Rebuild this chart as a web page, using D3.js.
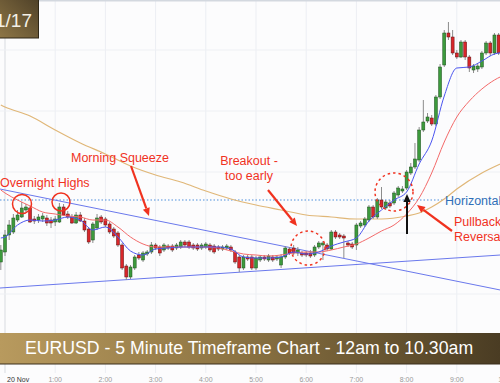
<!DOCTYPE html>
<html>
<head>
<meta charset="utf-8">
<script src="https://cdn.jsdelivr.net/npm/d3@7"></script>
<style>
  html, body { margin: 0; padding: 0; background: #fff; }
  svg { display: block; font-family: "Liberation Sans", Arial, sans-serif; }
</style>
</head>
<body>
<script>
// EURUSD 5 minute candles, first one opens 23:55 on 19 Nov
var firstCandle = new Date(2017, 10, 19, 23, 55);

var opens = [
  1.17738, 1.17748, 1.17765, 1.17768, 1.17780, 1.17783, 1.17790, 1.17792, 1.17781, 1.17780,
  1.17781, 1.17782, 1.17780, 1.17778, 1.17778, 1.17793, 1.17786, 1.17783, 1.17777, 1.17785,
  1.17779, 1.17771, 1.17760, 1.17772, 1.17783, 1.17781, 1.17776, 1.17771, 1.17767, 1.17755,
  1.17734, 1.17723, 1.17732, 1.17745, 1.17740, 1.17746, 1.17748, 1.17755, 1.17753, 1.17750,
  1.17754, 1.17754, 1.17752, 1.17753, 1.17758, 1.17758, 1.17755, 1.17755, 1.17752, 1.17753,
  1.17755, 1.17754, 1.17753, 1.17751, 1.17752, 1.17753, 1.17748, 1.17743, 1.17732, 1.17743,
  1.17743, 1.17732, 1.17740, 1.17743, 1.17740, 1.17743, 1.17741, 1.17735, 1.17743, 1.17751,
  1.17752, 1.17747, 1.17747, 1.17747, 1.17747, 1.17745, 1.17753, 1.17755, 1.17755, 1.17751,
  1.17768, 1.17765, 1.17764, 1.17757, 1.17756, 1.17755, 1.17774, 1.17775, 1.17780, 1.17793,
  1.17783, 1.17800, 1.17792, 1.17797, 1.17797, 1.17805, 1.17809, 1.17812, 1.17827, 1.17833,
  1.17840, 1.17870, 1.17879, 1.17882, 1.17876, 1.17903, 1.17935, 1.17967, 1.17963, 1.17947,
  1.17943, 1.17958, 1.17943, 1.17930, 1.17931, 1.17933, 1.17947, 1.17957, 1.17947, 1.17965
];
var highs = [
  1.17755, 1.17770, 1.17780, 1.17786, 1.17790, 1.17798, 1.17796, 1.17794, 1.17784, 1.17786,
  1.17787, 1.17785, 1.17783, 1.17784, 1.17797, 1.17796, 1.17789, 1.17786, 1.17788, 1.17788,
  1.17782, 1.17773, 1.17778, 1.17786, 1.17785, 1.17783, 1.17778, 1.17773, 1.17769, 1.17757,
  1.17736, 1.17735, 1.17745, 1.17748, 1.17749, 1.17750, 1.17758, 1.17757, 1.17755, 1.17757,
  1.17756, 1.17756, 1.17757, 1.17760, 1.17760, 1.17760, 1.17757, 1.17757, 1.17757, 1.17758,
  1.17757, 1.17756, 1.17755, 1.17755, 1.17756, 1.17755, 1.17750, 1.17745, 1.17745, 1.17745,
  1.17745, 1.17744, 1.17745, 1.17745, 1.17746, 1.17745, 1.17745, 1.17746, 1.17754, 1.17753,
  1.17755, 1.17753, 1.17749, 1.17749, 1.17750, 1.17755, 1.17759, 1.17759, 1.17757, 1.17770,
  1.17770, 1.17767, 1.17766, 1.17759, 1.17758, 1.17777, 1.17779, 1.17783, 1.17795, 1.17795,
  1.17802, 1.17813, 1.17800, 1.17800, 1.17809, 1.17814, 1.17814, 1.17830, 1.17837, 1.17857,
  1.17873, 1.17900, 1.17887, 1.17885, 1.17905, 1.17936, 1.17970, 1.17978, 1.17970, 1.17950,
  1.17960, 1.17960, 1.17945, 1.17936, 1.17937, 1.17949, 1.17959, 1.17959, 1.17967, 1.17967
];
var lows = [
  1.17730, 1.17744, 1.17760, 1.17766, 1.17778, 1.17782, 1.17788, 1.17777, 1.17776, 1.17777,
  1.17778, 1.17774, 1.17772, 1.17774, 1.17777, 1.17784, 1.17781, 1.17776, 1.17776, 1.17778,
  1.17768, 1.17756, 1.17757, 1.17770, 1.17776, 1.17773, 1.17766, 1.17762, 1.17753, 1.17730,
  1.17720, 1.17721, 1.17730, 1.17740, 1.17738, 1.17744, 1.17746, 1.17750, 1.17744, 1.17748,
  1.17750, 1.17748, 1.17750, 1.17751, 1.17753, 1.17751, 1.17750, 1.17749, 1.17750, 1.17751,
  1.17748, 1.17746, 1.17749, 1.17749, 1.17750, 1.17748, 1.17736, 1.17728, 1.17730, 1.17739,
  1.17730, 1.17730, 1.17738, 1.17739, 1.17738, 1.17738, 1.17739, 1.17732, 1.17741, 1.17745,
  1.17745, 1.17744, 1.17743, 1.17743, 1.17742, 1.17743, 1.17751, 1.17740, 1.17749, 1.17750,
  1.17761, 1.17761, 1.17742, 1.17753, 1.17751, 1.17750, 1.17772, 1.17773, 1.17778, 1.17781,
  1.17781, 1.17791, 1.17790, 1.17792, 1.17795, 1.17803, 1.17807, 1.17810, 1.17825, 1.17831,
  1.17838, 1.17868, 1.17877, 1.17874, 1.17874, 1.17901, 1.17933, 1.17960, 1.17945, 1.17941,
  1.17942, 1.17940, 1.17928, 1.17927, 1.17928, 1.17931, 1.17945, 1.17944, 1.17945, 1.17945
];
var closes = [
  1.17750, 1.17765, 1.17775, 1.17782, 1.17785, 1.17792, 1.17793, 1.17778, 1.17779, 1.17783,
  1.17784, 1.17777, 1.17777, 1.17781, 1.17793, 1.17785, 1.17783, 1.17777, 1.17785, 1.17779,
  1.17770, 1.17758, 1.17776, 1.17782, 1.17778, 1.17775, 1.17768, 1.17764, 1.17755, 1.17732,
  1.17723, 1.17733, 1.17743, 1.17742, 1.17747, 1.17748, 1.17755, 1.17752, 1.17747, 1.17755,
  1.17752, 1.17750, 1.17755, 1.17758, 1.17755, 1.17753, 1.17752, 1.17751, 1.17755, 1.17756,
  1.17750, 1.17748, 1.17751, 1.17753, 1.17754, 1.17750, 1.17738, 1.17732, 1.17743, 1.17741,
  1.17732, 1.17742, 1.17743, 1.17741, 1.17744, 1.17740, 1.17743, 1.17743, 1.17752, 1.17747,
  1.17747, 1.17750, 1.17745, 1.17745, 1.17744, 1.17753, 1.17757, 1.17757, 1.17751, 1.17768,
  1.17763, 1.17763, 1.17762, 1.17755, 1.17753, 1.17775, 1.17777, 1.17781, 1.17793, 1.17783,
  1.17800, 1.17793, 1.17798, 1.17794, 1.17807, 1.17812, 1.17811, 1.17828, 1.17833, 1.17841,
  1.17870, 1.17878, 1.17883, 1.17876, 1.17903, 1.17933, 1.17967, 1.17963, 1.17947, 1.17943,
  1.17958, 1.17943, 1.17932, 1.17934, 1.17934, 1.17947, 1.17957, 1.17947, 1.17965, 1.17947
];

// moving averages (minutes after midnight)
var maMinutes = [-5, 0, 15, 30, 45, 60, 75, 90, 105, 120, 135, 150, 165, 180, 195, 210, 225, 240, 255, 270,
  285, 300, 315, 330, 345, 360, 375, 390, 405, 420, 435, 450, 465, 480, 495, 510, 525, 540, 555, 570, 585, 600];
var fastMA = [
  1.17762, 1.17763, 1.17775, 1.17780, 1.17779, 1.17780, 1.17783, 1.17780, 1.17770, 1.17773,
  1.17763, 1.17749, 1.17745, 1.17751, 1.17752, 1.17753, 1.17753, 1.17753, 1.17753, 1.17751,
  1.17743, 1.17742, 1.17742, 1.17743, 1.17748, 1.17746, 1.17748, 1.17754, 1.17758, 1.17762,
  1.17779, 1.17790, 1.17800, 1.17808, 1.17836, 1.17859, 1.17904, 1.17932, 1.17933, 1.17939,
  1.17946, 1.17948
];
var slowMA = [
  1.17810, 1.17807, 1.17800, 1.17794, 1.17788, 1.17786, 1.17784, 1.17783, 1.17780, 1.17780,
  1.17773, 1.17763, 1.17756, 1.17753, 1.17753, 1.17753, 1.17753, 1.17753, 1.17752, 1.17749,
  1.17746, 1.17745, 1.17744, 1.17745, 1.17747, 1.17748, 1.17748, 1.17750, 1.17753, 1.17756,
  1.17762, 1.17769, 1.17775, 1.17786, 1.17802, 1.17827, 1.17858, 1.17883, 1.17899, 1.17911,
  1.17920, 1.17926
];
var longMinutes = [-5, 0, 30, 60, 90, 120, 150, 180, 210, 240, 270, 300, 330, 360, 390, 420, 450, 480, 495,
  510, 525, 540, 570, 600];
var longMA = [
  1.17895, 1.17893, 1.17884, 1.17870, 1.17857, 1.17846, 1.17834, 1.17825, 1.17818, 1.17809,
  1.17801, 1.17795, 1.17790, 1.17785, 1.17783, 1.17781, 1.17781, 1.17784, 1.17787, 1.17793,
  1.17801, 1.17811, 1.17827, 1.17839
];

// drawn lines: [minutes, price] pairs
var horizontalLevel = 1.17800;
var upperTrend = [[-6, 1.17811], [592, 1.17710]];
var lowerTrend = [[-6, 1.17712], [592, 1.17745]];
var gridPrices = [1.17950, 1.17889, 1.17828, 1.17767, 1.17706, 1.17645];

var W = 500, H = 383, plotBottom = 367;
var midnight = new Date(2017, 10, 20, 0, 0);
function atMin(m) { return d3.timeMinute.offset(midnight, m); }

var x = d3.scaleTime().domain([midnight, atMin(600)]).range([5, 507]);
var y = d3.scaleLinear().domain([1.17633, 1.18]).range([plotBottom, 0]);

var candles = opens.map(function(o, i) {
  return { t: d3.timeMinute.offset(firstCandle, 5 * i), o: o, h: highs[i], l: lows[i], c: closes[i] };
});

var svg = d3.select("body").append("svg").attr("width", W).attr("height", H);
var defs = svg.append("defs");

defs.append("clipPath").attr("id", "plot")
  .append("rect").attr("x", 0).attr("y", 0).attr("width", W).attr("height", plotBottom);

var bannerGrad = defs.append("linearGradient").attr("id", "banner")
  .attr("x1", "0%").attr("y1", "0%").attr("x2", "100%").attr("y2", "0%");
bannerGrad.append("stop").attr("offset", "0%").attr("stop-color", "#b89a5e");
bannerGrad.append("stop").attr("offset", "45%").attr("stop-color", "#8f7644");
bannerGrad.append("stop").attr("offset", "100%").attr("stop-color", "#4a3c23");

var boxGrad = defs.append("linearGradient").attr("id", "box")
  .attr("x1", "0%").attr("y1", "100%").attr("x2", "100%").attr("y2", "0%");
boxGrad.append("stop").attr("offset", "0%").attr("stop-color", "#8e7646");
boxGrad.append("stop").attr("offset", "100%").attr("stop-color", "#4f4128");

svg.append("rect").attr("width", W).attr("height", H).attr("fill", "#fcfcfd");

// grid
var hours = d3.timeHour.range(midnight, atMin(601));
svg.append("g").selectAll("line").data(hours).enter().append("line")
  .attr("x1", function(d) { return x(d); }).attr("x2", function(d) { return x(d); })
  .attr("y1", 0).attr("y2", 373)
  .attr("stroke", function(d, i) { return i == 0 ? "#d8dbe0" : "#eceef3"; })
  .attr("stroke-width", 1);
svg.append("g").selectAll("line").data(gridPrices).enter().append("line")
  .attr("x1", 0).attr("x2", W)
  .attr("y1", function(d) { return y(d); }).attr("y2", function(d) { return y(d); })
  .attr("stroke", "#eef0f4").attr("stroke-width", 1);
svg.append("line").attr("x1", 0).attr("x2", W).attr("y1", 0.5).attr("y2", 0.5)
  .attr("stroke", "#d3d8df").attr("stroke-width", 2);

var plot = svg.append("g").attr("clip-path", "url(#plot)");

// horizontal level
plot.append("line")
  .attr("x1", 0).attr("x2", 444)
  .attr("y1", y(horizontalLevel)).attr("y2", y(horizontalLevel))
  .attr("stroke", "#4d8fdc").attr("stroke-width", 1).attr("stroke-dasharray", "1.5,2");

// long MA
var maLine = function(mins) {
  return d3.line()
    .x(function(d, i) { return x(atMin(mins[i])); })
    .y(function(d) { return y(d); })
    .curve(d3.curveMonotoneX);
};
plot.append("path").datum(longMA).attr("d", maLine(longMinutes))
  .attr("fill", "none").attr("stroke", "#e0b778").attr("stroke-width", 1.2);

// trend lines
[upperTrend, lowerTrend].forEach(function(tl) {
  plot.append("line")
    .attr("x1", x(atMin(tl[0][0]))).attr("y1", y(tl[0][1]))
    .attr("x2", x(atMin(tl[1][0]))).attr("y2", y(tl[1][1]))
    .attr("stroke", "#6a78ec").attr("stroke-width", 1);
});

// candles
var cw = 3;
var cg = plot.append("g").selectAll("g").data(candles).enter().append("g");
cg.append("line")
  .attr("x1", function(d) { return x(d.t); }).attr("x2", function(d) { return x(d.t); })
  .attr("y1", function(d) { return y(d.h); }).attr("y2", function(d) { return y(d.l); })
  .attr("stroke", "#8c8c8c").attr("stroke-width", 1);
cg.append("rect")
  .attr("x", function(d) { return x(d.t) - cw / 2; })
  .attr("width", cw)
  .attr("y", function(d) { return y(Math.max(d.o, d.c)); })
  .attr("height", function(d) { return Math.max(1, Math.abs(y(d.o) - y(d.c))); })
  .attr("fill", function(d) { return d.c >= d.o ? "#3c9a3c" : "#d8262a"; })
  .attr("stroke", function(d) { return d.c >= d.o ? "#1f4f1f" : "#5e1212"; })
  .attr("stroke-width", 0.5);

// fast and slow MA
plot.append("path").datum(slowMA).attr("d", maLine(maMinutes))
  .attr("fill", "none").attr("stroke", "#f36a6a").attr("stroke-width", 1);
plot.append("path").datum(fastMA).attr("d", maLine(maMinutes))
  .attr("fill", "none").attr("stroke", "#4b55f0").attr("stroke-width", 1);

// annotations
var red = "#f0321f";
function arrow(x1, y1, x2, y2, color, w, head) {
  var a = Math.atan2(y2 - y1, x2 - x1);
  var bx = x2 - Math.cos(a) * head, by = y2 - Math.sin(a) * head;
  var px = -Math.sin(a) * head * 0.45, py = Math.cos(a) * head * 0.45;
  svg.append("line").attr("x1", x1).attr("y1", y1).attr("x2", bx).attr("y2", by)
    .attr("stroke", color).attr("stroke-width", w);
  svg.append("polygon")
    .attr("points", [[x2, y2], [bx + px, by + py], [bx - px, by - py]].map(function(p) { return p.join(","); }).join(" "))
    .attr("fill", color);
}

[[22, 204, 9.5], [61, 202, 9]].forEach(function(c) {
  svg.append("circle").attr("cx", c[0]).attr("cy", c[1]).attr("r", c[2])
    .attr("fill", "none").attr("stroke", red).attr("stroke-width", 1.5);
});
[[308, 248, 17], [394, 192, 19]].forEach(function(c) {
  svg.append("circle").attr("cx", c[0]).attr("cy", c[1]).attr("r", c[2])
    .attr("fill", "none").attr("stroke", red).attr("stroke-width", 1.5)
    .attr("stroke-dasharray", "2.5,3");
});

var labels = [
  { t: "Overnight Highs", x: 0, y: 187, c: red, a: "start" },
  { t: "Morning Squeeze", x: 71, y: 162, c: red, a: "start" },
  { t: "Breakout -", x: 249, y: 165, c: red, a: "middle" },
  { t: "too early", x: 249, y: 180, c: red, a: "middle" },
  { t: "Horizontal", x: 445, y: 205, c: "#2f6fb8", a: "start" },
  { t: "Pullback", x: 454, y: 226, c: red, a: "start" },
  { t: "Reversal", x: 454, y: 241, c: red, a: "start" }
];
svg.append("g").selectAll("text").data(labels).enter().append("text")
  .attr("x", function(d) { return d.x; }).attr("y", function(d) { return d.y; })
  .attr("text-anchor", function(d) { return d.a; })
  .attr("fill", function(d) { return d.c; })
  .attr("font-size", 12.5)
  .text(function(d) { return d.t; });

arrow(131, 166, 149, 216, red, 2.2, 8);
arrow(268, 190, 297, 226, red, 2.2, 8);
arrow(452, 231, 417, 205, red, 2.2, 8);
arrow(407, 234, 407, 194, "#111", 2, 8);

// date box, top left
svg.append("rect").attr("x", -1).attr("y", -1).attr("width", 39.5).attr("height", 39)
  .attr("fill", "url(#box)").attr("stroke", "#2f2717").attr("stroke-width", 1);
svg.append("text").attr("x", 32).attr("y", 27).attr("text-anchor", "end")
  .attr("fill", "#f4f0e6").attr("font-size", 19).text("11/17");

// banner
svg.append("rect").attr("x", 0).attr("y", 333).attr("width", W).attr("height", 31)
  .attr("fill", "url(#banner)");
svg.append("line").attr("x1", 0).attr("x2", W).attr("y1", 364).attr("y2", 364)
  .attr("stroke", "#3a2f1c").attr("stroke-width", 1);
svg.append("text").attr("x", 249).attr("y", 354).attr("text-anchor", "middle")
  .attr("fill", "#fff").attr("font-size", 17.7)
  .text("EURUSD - 5 Minute Timeframe Chart - 12am to 10.30am");

// time axis
var fmt = d3.timeFormat("%-H:%M");
svg.append("g").selectAll("text").data(hours).enter().append("text")
  .attr("x", function(d, i) { return i == 0 ? x(d) + 2 : x(d); })
  .attr("y", 382)
  .attr("text-anchor", function(d, i) { return i == 0 ? "start" : "middle"; })
  .attr("fill", function(d, i) { return i == 0 ? "#333" : "#999"; })
  .attr("font-size", 7)
  .text(function(d, i) { return i == 0 ? "20 Nov" : fmt(d); });
</script>
</body>
</html>
